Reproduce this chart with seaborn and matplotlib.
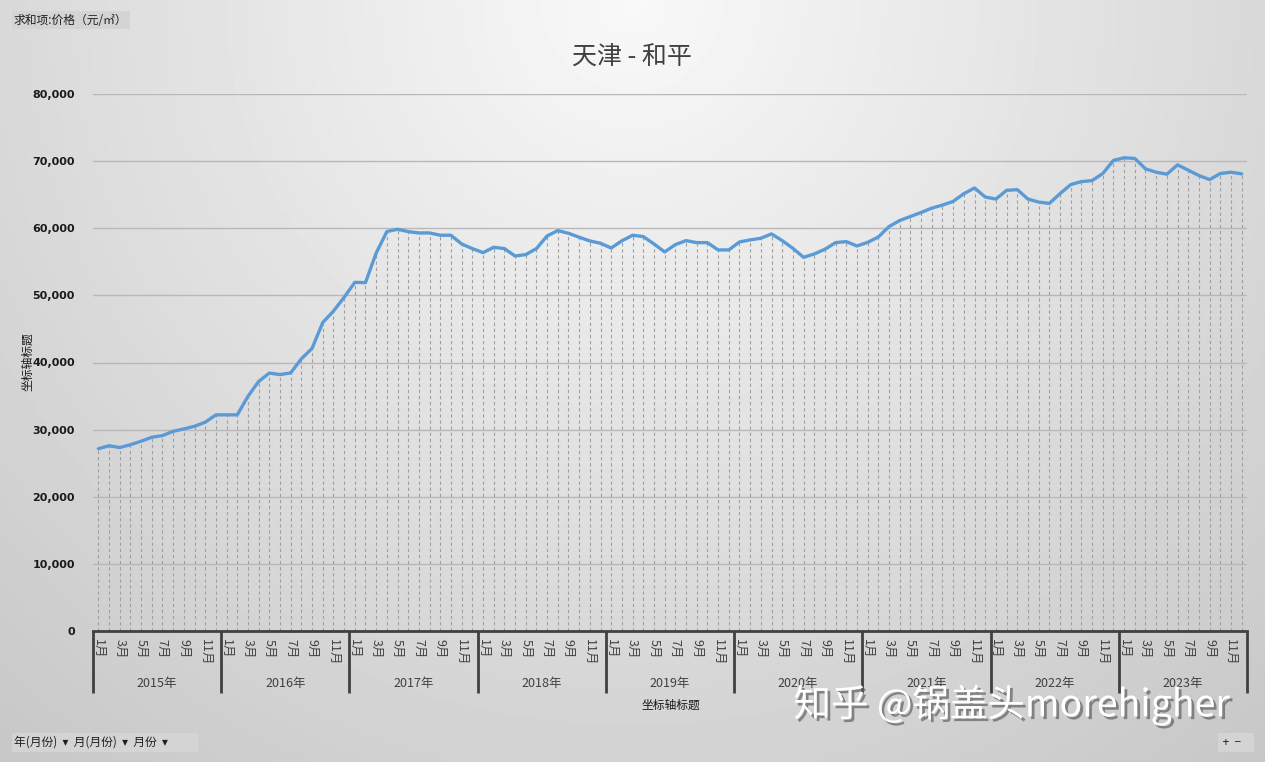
import matplotlib
matplotlib.use('agg')

import numpy as np
import pandas as pd
import seaborn as sns
import matplotlib.pyplot as plt
import matplotlib.patheffects as pe
from matplotlib.patches import FancyBboxPatch

sns.set_style('white')
plt.rcParams['font.family'] = ['Noto Sans CJK SC', 'DejaVu Sans']

# monthly price (元/㎡), Jan 2015 .. Dec 2023
years = [2015, 2016, 2017, 2018, 2019, 2020, 2021, 2022, 2023]
price = [
    27150, 27600, 27330, 27750, 28270, 28860, 29110, 29750, 30100, 30500, 31100, 32200,
    32200, 32200, 34950, 37170, 38420, 38200, 38450, 40550, 42100, 45950, 47650, 49700,
    51940, 51900, 56300, 59500, 59850, 59500, 59300, 59300, 58960, 58960, 57660, 56970,
    56370, 57160, 56970, 55870, 56070, 56970, 58860, 59650, 59250, 58660, 58110, 57760,
    57060, 58130, 58960, 58760, 57660, 56470, 57560, 58160, 57860, 57860, 56770, 56770,
    57960, 58260, 58510, 59150, 58160, 57010, 55670, 56170, 56870, 57860, 58010, 57360,
    57900, 58700, 60250, 61150, 61750, 62350, 63000, 63450, 64000, 65150, 66000, 64650,
    64350, 65650, 65750, 64350, 63900, 63700, 65150, 66500, 66950, 67100, 68150, 70100,
    70500, 70400, 68850, 68350, 68050, 69450, 68650, 67850, 67250, 68150, 68350, 68100,
]
month_labels = ['1月', '3月', '5月', '7月', '9月', '11月']
title = '天津 - 和平'

df = pd.DataFrame({'idx': np.arange(len(price)), 'price': price})

W, H = 1265, 762
fig = plt.figure(figsize=(W / 100, H / 100), dpi=100)

# background gradient like the Excel chart area
bg = fig.add_axes([0, 0, 1, 1])
gx, gy = np.meshgrid(np.linspace(0, 1, 400), np.linspace(0, 1, 240))
d = np.sqrt(((gx - 0.5) / 0.6) ** 2 + (gy / 1.0) ** 2)
shade = np.clip(0.975 - 0.15 * d, 0, 1)
bg.imshow(shade, cmap='gray', vmin=0, vmax=1, aspect='auto', extent=[0, 1, 1, 0])
bg.set_xlim(0, 1)
bg.set_ylim(1, 0)
bg.axis('off')

left, right, top, bottom = 93, 1247, 94, 631
ax = fig.add_axes([left / W, 1 - bottom / H, (right - left) / W, (bottom - top) / H])
ax.set_facecolor('none')

# drop lines
ax.vlines(df['idx'], 0, df['price'], colors='#a0a0a0', linewidth=0.8,
          linestyles=(0, (3, 2.5)), zorder=2)
sns.lineplot(data=df, x='idx', y='price', color='#5b9bd5', linewidth=2.4, ax=ax, zorder=3)

ax.set_xlim(-0.5, len(price) - 0.5)
ax.set_ylim(0, 80000)
ax.set_yticks(range(0, 80001, 10000))
ax.set_yticklabels([f'{v:,}' for v in range(0, 80001, 10000)], fontsize=8,
                   fontweight='bold', color='#1a1a1a', family=['DejaVu Sans'])
ax.tick_params(axis='y', length=0, pad=13)
ax.yaxis.grid(True, color='#b8b8b8', linewidth=1)
ax.set_axisbelow(True)
for s in ['top', 'right', 'left']:
    ax.spines[s].set_visible(False)
ax.spines['bottom'].set_color('#404040')
ax.spines['bottom'].set_linewidth(2)
ax.set_xlabel('')
ax.set_ylabel('')

# month tick labels
ticks = [12 * k + m for k in range(len(years)) for m in range(0, 12, 2)]
ax.set_xticks(ticks)
ax.set_xticklabels(month_labels * len(years), rotation=270, fontsize=9, color='#404040')
ax.tick_params(axis='x', length=0, pad=6)

# year labels and separators
for k, yr in enumerate(years):
    ax.annotate(f'{yr}年', xy=(12 * k + 5.5, 0), xycoords=('data', 'axes fraction'),
                xytext=(0, -53), textcoords='offset pixels', ha='center', va='center',
                fontsize=9, color='#404040')
sep_h = 62 / (bottom - top)
for k in range(len(years) + 1):
    ax.plot([12 * k - 0.5] * 2, [0, -sep_h], color='#404040', linewidth=2,
            transform=ax.get_xaxis_transform(), clip_on=False, solid_capstyle='butt')

fig.text(632 / W, 1 - 58 / H, title, ha='center', va='center', fontsize=18, color='#404040')
fig.text(28 / W, 1 - 362 / H, '坐标轴标题', rotation=90, ha='center', va='center',
         fontsize=8.5, color='#1a1a1a')
fig.text(671 / W, 1 - 705 / H, '坐标轴标题', ha='center', va='center', fontsize=8.5,
         color='#1a1a1a')


def button(x0, y0, x1, y1, label, fs=8.5):
    box = FancyBboxPatch((x0 / W, 1 - y1 / H), (x1 - x0) / W, (y1 - y0) / H,
                         boxstyle='square,pad=0', transform=fig.transFigure,
                         facecolor='#d4d4d4', edgecolor='none', zorder=5)
    fig.patches.append(box)
    fig.text((x0 + 2) / W, 1 - (y0 + y1) / 2 / H, label, ha='left', va='center',
             fontsize=fs, color='#202020', zorder=6)


button(12, 11, 130, 29, '求和项:价格（元/㎡）')
button(12, 733, 198, 752, '年(月份)  ▾  月(月份)  ▾  月份  ▾')
button(1218, 733, 1254, 752, ' +  −', fs=8.5)

# watermark
fig.text(1012 / W, 1 - 705 / H, '知乎 @锅盖头morehigher', ha='center', va='center',
         fontsize=27, color='white', zorder=7,
         path_effects=[pe.withSimplePatchShadow(offset=(2, -2), shadow_rgbFace='#606060',
                                                alpha=0.7)])

fig.savefig('out.png', dpi=100)
